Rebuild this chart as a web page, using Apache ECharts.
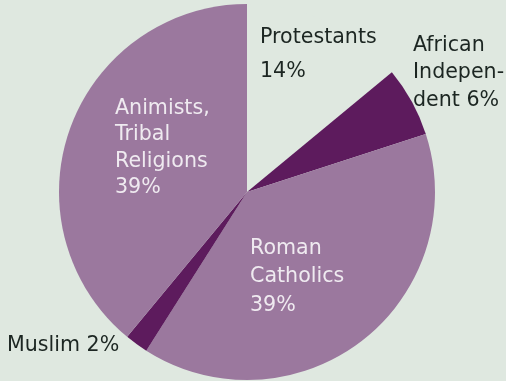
<!DOCTYPE html>
<html>
<head>
<meta charset="utf-8">
<script src="https://cdn.jsdelivr.net/npm/echarts@6/dist/echarts.min.js"></script>
<style>
html,body{margin:0;padding:0;background:#dfe8e0;}
#chart{width:506px;height:381px;}
</style>
</head>
<body>
<div id="chart"></div>
<script>
const categories = ['Protestants', 'African Independent', 'Roman Catholics', 'Muslim', 'Animists, Tribal Religions'];
const values = [14, 6, 39, 2, 39];
const labelLines = [
  ['Protestants', '14%'],
  ['African', 'Indepen-', 'dent 6%'],
  ['Roman', 'Catholics', '39%'],
  ['Muslim 2%'],
  ['Animists,', 'Tribal', 'Religions', '39%']
];

const bg = '#dfe8e0';
const light = '#9b789e';
const dark = '#5d1b5d';
const sliceColors = [bg, dark, light, dark, light];
const textColors = ['#1c2622', '#1c2622', '#efeaf0', '#1c2622', '#efeaf0'];
const labelPos = [
  {x: 260, y: 27, lh: 34},
  {x: 413, y: 35, lh: 27.5},
  {x: 250, y: 238, lh: 28.5},
  {x: 7, y: 335, lh: 27},
  {x: 115, y: 98, lh: 26.5}
];

const chart = echarts.init(document.getElementById('chart'), null, {renderer: 'canvas'});
const graphics = [];
labelLines.forEach((lines, i) => {
  lines.forEach((t, j) => {
    graphics.push({
      type: 'text',
      left: labelPos[i].x,
      top: labelPos[i].y + j * labelPos[i].lh,
      z: 100,
      style: {
        text: t,
        fill: textColors[i],
        font: '20.6px "DejaVu Sans"'
      }
    });
  });
});

chart.setOption({
  backgroundColor: bg,
  animation: false,
  graphic: graphics,
  series: [{
    type: 'pie',
    center: [247, 192],
    radius: 188,
    startAngle: 90,
    clockwise: true,
    label: {show: false},
    labelLine: {show: false},
    emphasis: {disabled: true},
    itemStyle: {borderWidth: 0},
    data: categories.map((c, i) => ({
      name: c,
      value: values[i],
      itemStyle: {color: sliceColors[i]}
    }))
  }]
});
</script>
</body>
</html>
